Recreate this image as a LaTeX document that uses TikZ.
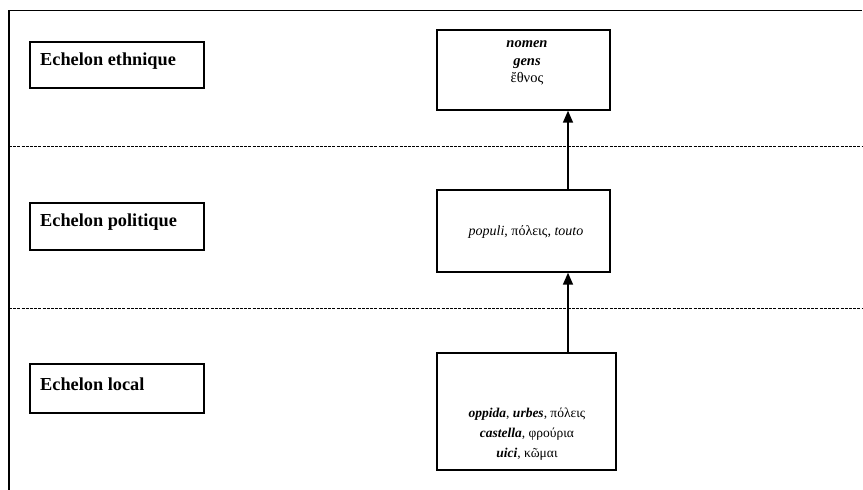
\documentclass[tikz,border=0pt]{standalone}
\usepackage{fontspec}
\setmainfont{Liberation Serif}
\usetikzlibrary{arrows.meta}
\begin{document}
\begin{tikzpicture}[x=1pt,y=-1pt,
  frame/.style={line width=1.4pt},
  boxline/.style={draw,line width=1.4pt},
  sep/.style={line width=0.9pt,dash pattern=on 3pt off 1.2pt},
  lbl/.style={font=\fontsize{18.3}{20}\selectfont\bfseries,anchor=base west,inner sep=0pt},
  boxtxt/.style={font=\fontsize{14}{18}\selectfont,align=center,inner sep=0pt},
  up/.style={line width=1.6pt,-{Triangle[length=12pt,width=10pt]}}]
\useasboundingbox (0,0) rectangle (863,490);
% frame
\draw[frame] (9,490) -- (9,10.5) -- (862,10.5);
% dashed separators
\coordinate (s1a) at (9,146); \coordinate (s1b) at (862,146);
\coordinate (s2a) at (9,308); \coordinate (s2b) at (862,308);
\draw[sep] (s1a) -- (s1b);
\draw[sep] (s2a) -- (s2b);
% left label boxes
\draw[boxline] (30,42) rectangle (204,88);
\node[lbl] (le) at (40,65) {Echelon ethnique};
\draw[boxline] (30,203) rectangle (204,250);
\node[lbl] (lp) at (40,226) {Echelon politique};
\draw[boxline] (30,364) rectangle (204,413);
\node[lbl] (ll) at (40,390) {Echelon local};
% right boxes
\node[boxline,minimum width=173pt,minimum height=80pt,inner sep=0pt] (top) at (523.5,70) {};
\node[boxtxt,font=\fontsize{14.5}{17.5}\selectfont] (toptxt) at (527,63) {\textit{\textbf{nomen}}\\\textit{\textbf{gens}}\\ἔθνος};
\node[boxline,minimum width=173pt,minimum height=82pt,inner sep=0pt] (mid) at (523.5,231) {};
\node[boxtxt] (midtxt) at (526,232) {\textit{populi}, πόλεις, \textit{touto}};
\node[boxline,minimum width=179pt,minimum height=117pt,inner sep=0pt] (bot) at (526.5,411.5) {};
\node[boxtxt,font=\fontsize{13.5}{20}\selectfont] (bottxt) at (527,434) {\textit{\textbf{oppida}}, \textit{\textbf{urbes}}, πόλεις\\\textit{\textbf{castella}}, φρούρια\\\textit{\textbf{uici}}, κῶμαι};
% arrows
\draw[up] (mid.north -| 568,0) -- (top.south -| 568,0);
\draw[up] (bot.north -| 568,0) -- (mid.south -| 568,0);
\end{tikzpicture}
\end{document}
